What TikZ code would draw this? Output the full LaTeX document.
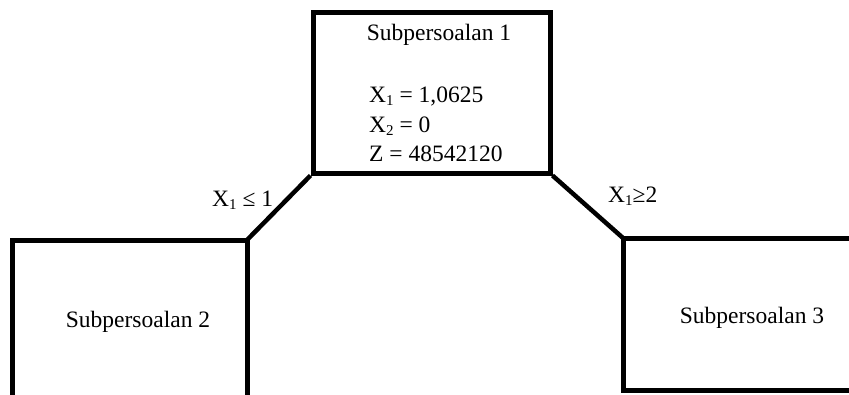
\documentclass[tikz,border=0pt]{standalone}
\usepackage{fontspec}
\setmainfont{Liberation Serif}
\newcommand{\lowsub}[1]{\raisebox{-0.3ex}{\fontsize{15}{15}\selectfont #1}}
\begin{document}
\begin{tikzpicture}[x=1pt,y=-1pt,
  boxline/.style={line width=5pt,line join=miter},
  conn/.style={line width=4.5pt},
  txt/.style={inner sep=0pt,anchor=base,font=\fontsize{23.5}{28}\selectfont},
  ltxt/.style={inner sep=0pt,anchor=base west,font=\fontsize{23.5}{28}\selectfont}]
\useasboundingbox (0,0) rectangle (849,394);
% top box
\node[boxline,draw,minimum width=237pt,minimum height=161pt,inner sep=0pt] (top) at (431.5,92.5) {};
% left box corners
\coordinate (lTR) at (247,240);
\coordinate (lTL) at (12,240);
\coordinate (lBR) at (247,400);
\coordinate (lBL) at (12,400);
\draw[boxline] (lBR) -- (lTR) -- (lTL) -- (lBL);
% right box corners
\coordinate (rTL) at (623,238);
\coordinate (rTR) at (855,238);
\coordinate (rBL) at (623,390);
\coordinate (rBR) at (855,390);
\draw[boxline] (rTR) -- (rTL) -- (rBL) -- (rBR);
% connectors
\draw[conn] (top.south west) -- (lTR);
\draw[conn] (top.south east) -- (rTL);
% texts
\node[txt] (t1) at (439,40) {Subpersoalan 1};
\node[ltxt] (x1) at (369,102) {X\lowsub{1} = 1,0625};
\node[ltxt] (x2) at (369,132) {X\lowsub{2} = 0};
\node[ltxt] (z) at (369,161) {Z = 48542120};
\node[ltxt] (c1) at (212,206) {X\lowsub{1} ≤ 1};
\node[ltxt] (c2) at (608,202) {X\lowsub{1}≥2};
\node[txt] (s2) at (138,327) {Subpersoalan 2};
\node[txt] (s3) at (752,323) {Subpersoalan 3};
\end{tikzpicture}
\end{document}
